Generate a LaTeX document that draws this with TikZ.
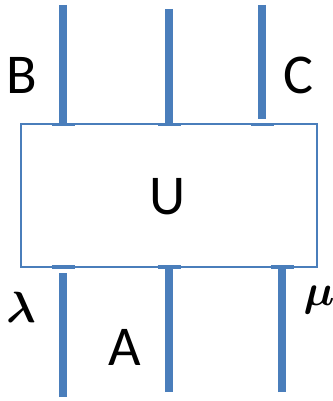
\documentclass[tikz,border=0pt]{standalone}
\usepackage{amsmath}
\usepackage{fontspec}
\setmainfont{Carlito}
\usetikzlibrary{positioning}
\definecolor{legblue}{HTML}{4A7EBB}

\begin{document}
\begin{tikzpicture}[
    x=0.02cm, y=-0.02cm,
    leg/.style={line width=4pt, legblue},
    tick/.style={line width=2.2pt, legblue},
    lbl/.style={font=\fontsize{32}{36}\selectfont, inner sep=0pt},
    sym/.style={font=\fontsize{40}{44}\selectfont, inner sep=0pt}
]
\useasboundingbox (0,0) rectangle (333,401);
\node[draw=legblue, line width=1.1pt, minimum width=5.92cm, minimum height=2.86cm,
    inner sep=0pt] (U) at (169,195.5) {};
\node[lbl] (Ulbl) at (167.5,196.5) {U};
% legs above the box
\coordinate (t1) at (63,5);
\coordinate (t2) at (169,9);
\coordinate (t3) at (262,5);
\draw[leg] (t1) -- (t1 |- U.north);
\draw[leg] (t2) -- (t2 |- U.north);
\draw[leg] (t3) -- ([yshift=0.08cm]t3 |- U.north);
% legs below the box
\coordinate (b1) at (63,397);
\coordinate (b2) at (169,392);
\coordinate (b3) at (282,392);
\draw[leg] (b1) -- ([yshift=-0.1cm]b1 |- U.south);
\draw[leg] (b2) -- (b2 |- U.south);
\draw[leg] (b3) -- (b3 |- U.south);
% small bars on the box edges
\foreach \c in {t1,t2,t3}
    \draw[tick] ([xshift=-0.23cm,yshift=-0.03cm]\c |- U.north) -- ++(0.46cm,0);
\foreach \c in {b1,b2,b3}
    \draw[tick] ([xshift=-0.23cm,yshift=0.02cm]\c |- U.south) -- ++(0.46cm,0);
% labels
\node[lbl] (B) at (22,75) {B};
\node[lbl] (C) at (298,75) {C};
\node[lbl] (A) at (125,347) {A};
\node[sym] (lam) at (21,307) {$\boldsymbol{\lambda}$};
\node[sym] (mu) at (319,300) {$\boldsymbol{\mu}$};
\end{tikzpicture}
\end{document}
